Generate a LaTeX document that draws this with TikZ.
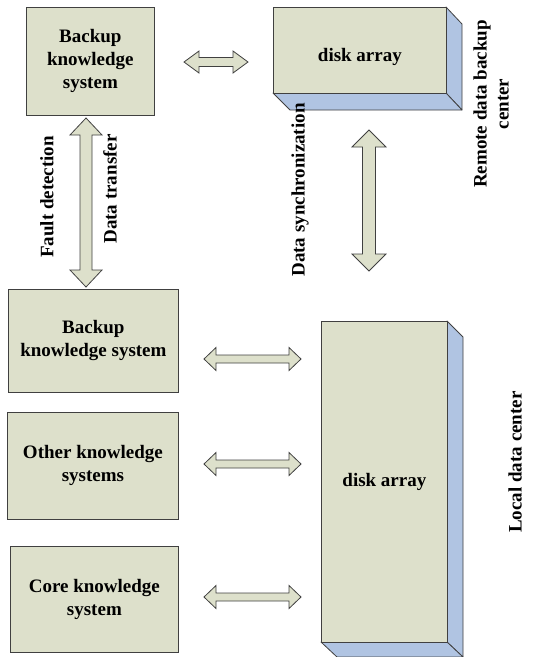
\documentclass[tikz,border=0pt]{standalone}
\usepackage{fontspec}
\setmainfont{Liberation Serif}
\begin{document}
\begin{tikzpicture}[x=1pt,y=-1pt,
  every node/.style={font=\fontsize{19}{23}\selectfont\bfseries, text=black, align=center},
  box/.style={draw=black!75, line width=0.8pt, fill=boxfill, anchor=north west, inner sep=0pt},
  face/.style={draw=black!75, line width=0.8pt, fill=sidefill, line join=round},
  blockarrow/.style={draw=black!75, line width=0.8pt, fill=boxfill, line join=miter},
  vlabel/.style={rotate=90, inner sep=0pt}]
\definecolor{boxfill}{RGB}{221,224,203}
\definecolor{sidefill}{RGB}{176,196,226}
\useasboundingbox (0,0) rectangle (539,657);
\newcommand\harrow[6]{\draw[blockarrow] (#1,#3) -- (#1+#6,#3-#4) -- (#1+#6,#3-#5) -- (#2-#6,#3-#5) -- (#2-#6,#3-#4) -- (#2,#3) -- (#2-#6,#3+#4) -- (#2-#6,#3+#5) -- (#1+#6,#3+#5) -- (#1+#6,#3+#4) -- cycle;}
\newcommand\varrow[6]{\draw[blockarrow] (#3,#1) -- (#3-#4,#1+#6) -- (#3-#5,#1+#6) -- (#3-#5,#2-#6) -- (#3-#4,#2-#6) -- (#3,#2) -- (#3+#4,#2-#6) -- (#3+#5,#2-#6) -- (#3+#5,#1+#6) -- (#3+#4,#1+#6) -- cycle;}
% boxes
\node[box, minimum width=128pt, minimum height=108pt] (bk1) at (26,7) {};
\node at (bk1.center) {Backup\\knowledge\\system};
\node[box, minimum width=170pt, minimum height=103pt] (bk2) at (8,289) {};
\node at (bk2.center) {Backup\\knowledge system};
\node[box, minimum width=171pt, minimum height=107pt] (oth) at (7,412) {};
\node at (oth.center) {Other knowledge\\systems};
\node[box, minimum width=168pt, minimum height=106pt] (core) at (10,546) {};
\node at (core.center) {Core knowledge\\system};
% remote disk array
\draw[face] (446,7) -- (462,24) -- (462,110) -- (446,93) -- cycle;
\draw[face] (273,93) -- (446,93) -- (462,110) -- (290,110) -- cycle;
\node[box, minimum width=173pt, minimum height=86pt] (rda) at (273,7) {};
\node at ([yshift=-7pt]rda.center) {disk array};
% local disk array
\draw[face] (447,321) -- (463,337) -- (463,657) -- (447,642) -- cycle;
\draw[face] (321,642) -- (447,642) -- (463,657) -- (337,657) -- cycle;
\node[box, minimum width=126pt, minimum height=321pt] (lda) at (321,321) {};
\node at (lda.center) {disk array};
% arrows
\harrow{184}{248}{62}{11}{4.5}{15}
\harrow{204}{301}{359}{11.5}{4}{12}
\harrow{204}{301}{464}{11.5}{4}{12}
\harrow{204}{301}{597}{11.5}{4}{12}
\varrow{118}{287}{86}{16}{6}{17}
\varrow{130}{271}{369}{17}{6.5}{17}
% labels
\node[vlabel] (fd) at (47,197) {Fault detection};
\node[vlabel] (dt) at (110,189) {Data transfer};
\node[vlabel] (ds) at (300,190) {Data synchronization};
\node[vlabel, font=\fontsize{19}{22}\selectfont\bfseries] (rc) at (491,104) {Remote data backup\\center};
\node[vlabel] (lc) at (515,462) {Local data center};
\end{tikzpicture}
\end{document}
